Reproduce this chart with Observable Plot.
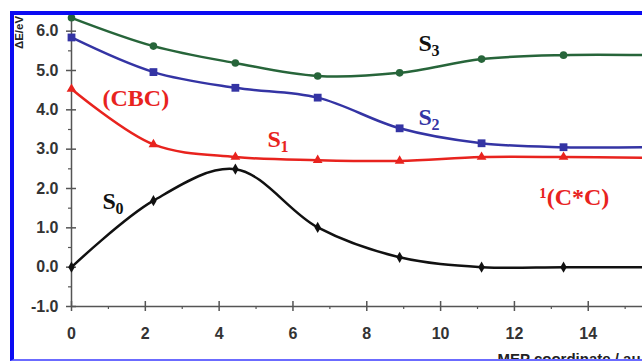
<!DOCTYPE html>
<html><head><meta charset="utf-8">
<script src="https://cdn.jsdelivr.net/npm/d3@7"></script>
<script src="https://cdn.jsdelivr.net/npm/@observablehq/plot@0.6"></script>
<style>
html,body{margin:0;padding:0;background:#fff;}
#wrap{position:relative;width:642px;height:361px;overflow:hidden;background:#fff;}
#frame{position:absolute;left:10px;top:11px;width:640px;height:350px;box-sizing:border-box;border-left:4px solid #0b0bf2;border-top:4px solid #0b0bf2;border-bottom:2px solid #6b6bff;pointer-events:none;}
</style></head><body>
<div id="wrap"><div id="chart"></div><div id="frame"></div></div>
<script>
// MEP coordinate (au) of each computed point
const mep = [0, 2.22, 4.44, 6.67, 8.89, 11.11, 13.33, 15.56];
// Energies (eV)
const s0 = [0.00, 1.69, 2.49, 1.01, 0.25, 0.00, 0.00, 0.00];
const s1 = [4.53, 3.12, 2.80, 2.72, 2.70, 2.80, 2.80, 2.78];
const s2 = [5.84, 4.96, 4.56, 4.31, 3.53, 3.15, 3.05, 3.05];
const s3 = [6.34, 5.62, 5.19, 4.86, 4.94, 5.29, 5.39, 5.39];
const seriesNames = ["S0", "S1", "S2", "S3"];
const seriesColors = ["#111111", "#e8231e", "#3434a4", "#27653a"];
const seriesSymbols = ["diamond", "triangle", "square", "circle"];
const seriesR = [3.4, 3.6, 4.4, 3.8];
const xTicks = [0, 2, 4, 6, 8, 10, 12, 14];
const xMinorTicks = [1, 3, 5, 7, 9, 11, 13, 15];
const yTicks = [-1, 0, 1, 2, 3, 4, 5, 6];
const yMinorTicks = [-0.5, 0.5, 1.5, 2.5, 3.5, 4.5, 5.5];
// annotations
const labelText = ["S", "S", "S", "S", "(CBC)", "¹(C*C)"];
const labelSub = ["0", "1", "2", "3", "", ""];
const labelX = [0.84, 5.31, 9.40, 9.40, 0.84, 12.68];
const labelY = [1.49, 3.05, 3.61, 5.49, 4.09, 1.57];
const labelColor = ["#111111", "#e8231e", "#3434a4", "#111111", "#e8231e", "#e8231e"];
const yTitle = "ΔE/eV";
const xTitle = "MEP coordinate / au";

const xMax = 15.47;
const seriesValues = [s0, s1, s2, s3];
const rows = [];
seriesNames.forEach((name, i) => mep.forEach((x, j) => rows.push({series: name, x, y: seriesValues[i][j]})));
const labels = labelText.map((t, i) => ({text: t, sub: labelSub[i], x: labelX[i], y: labelY[i], color: labelColor[i]}));

const sans = "Liberation Sans, Arial, sans-serif";
const serif = "Liberation Serif, Times New Roman, serif";
const axisColor = "#555555";

const dotMarks = seriesNames.map((name, i) =>
  Plot.dot(rows.filter(d => d.series === name && d.x <= xMax), {
    x: "x", y: "y", symbol: () => seriesSymbols[i], fill: seriesColors[i], r: seriesR[i], stroke: "none"
  })
);

const chart = Plot.plot({
  width: 642, height: 361,
  marginLeft: 71, marginRight: 0, marginTop: 11, marginBottom: 55,
  x: {domain: [0, xMax], label: null},
  y: {domain: [-1, 6.5], label: null},
  color: {domain: seriesNames, range: seriesColors},
  symbol: {domain: seriesSymbols, range: seriesSymbols},
  style: {fontFamily: sans, background: "transparent"},
  marks: [
    Plot.ruleX([0], {stroke: axisColor, strokeWidth: 1.5}),
    Plot.ruleY([-1], {stroke: axisColor, strokeWidth: 1.5}),
    Plot.axisY(yTicks, {tickSize: 5, tickPadding: 8, tickFormat: d => d.toFixed(1), fontSize: 16, fontWeight: "bold", fill: "#333", stroke: axisColor, strokeWidth: 1.5, label: null}),
    Plot.axisY(yTicks, {tickSize: -5, fill: "none", stroke: axisColor, strokeWidth: 1.5, label: null}),
    Plot.axisY(yMinorTicks, {tickSize: 3, fill: "none", stroke: axisColor, strokeWidth: 1.2, label: null}),
    Plot.axisX(xTicks, {tickSize: 5, tickPadding: 16, tickFormat: d => String(d), fontSize: 16, fontWeight: "bold", fill: "#333", stroke: axisColor, strokeWidth: 1.5, label: null}),
    Plot.axisX(xTicks, {tickSize: -5, fill: "none", stroke: axisColor, strokeWidth: 1.5, label: null}),
    Plot.axisX(xMinorTicks, {tickSize: 3, fill: "none", stroke: axisColor, strokeWidth: 1.2, label: null}),
    Plot.line(rows, {x: "x", y: "y", stroke: "series", z: "series", curve: "catmull-rom", strokeWidth: 2.5, clip: true}),
    ...dotMarks,
    Plot.text(labels, {x: "x", y: "y", text: "text", fill: d => d.color, fontSize: 24, fontWeight: "bold", fontFamily: serif, textAnchor: "start", lineAnchor: "bottom"}),
    Plot.text(labels.filter(d => d.sub), {x: "x", y: "y", text: "sub", fill: d => d.color, fontSize: 16, fontWeight: "bold", fontFamily: serif, textAnchor: "start", lineAnchor: "bottom", dx: 13, dy: 5}),
    Plot.text([yTitle], {text: d => d, frameAnchor: "top-left", dx: -52, dy: 21, rotate: -90, fontSize: 11.5, fontWeight: "bold", fill: "#222", textAnchor: "middle", lineAnchor: "middle"}),
    Plot.text([xTitle], {text: d => d, frameAnchor: "bottom-left", dx: 426, dy: 57, fontSize: 15, fontWeight: "bold", fill: "#222", textAnchor: "start", lineAnchor: "bottom"})
  ]
});
document.getElementById("chart").appendChild(chart);
</script>
</body></html>
